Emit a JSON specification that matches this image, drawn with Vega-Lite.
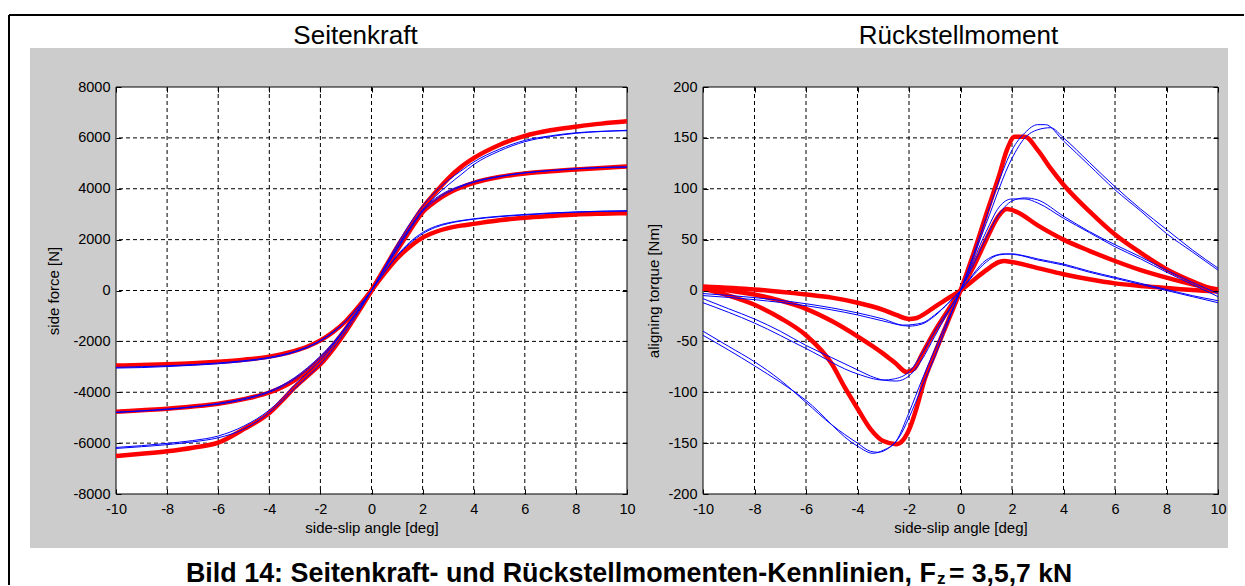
{
  "$schema": "https://vega.github.io/schema/vega-lite/v6.json",
  "background": "#ffffff",
  "autosize": {"type": "pad"},
  "padding": {"left": 7, "top": 13, "right": 0, "bottom": 0},
  "bounds": "flush",
  "spacing": 76,
  "config": {
    "font": "Liberation Sans",
    "view": {"stroke": null},
    "axis": {
      "domain": false,
      "grid": false,
      "labelFont": "Liberation Sans",
      "labelFontSize": 14.5,
      "labelColor": "#000000",
      "titleFont": "Liberation Sans",
      "titleFontSize": 15,
      "titleFontWeight": "normal",
      "titleColor": "#000000",
      "tickColor": "#000000",
      "tickWidth": 1,
      "labelFlush": false,
      "labelOverlap": false,
      "labelBound": false
    }
  },
  "datasets": {
    "one": [{}],
    "gridX": [{"v": -8}, {"v": -6}, {"v": -4}, {"v": -2}, {"v": 0}, {"v": 2}, {"v": 4}, {"v": 6}, {"v": 8}],
    "gridForce": [{"v": -6000}, {"v": -4000}, {"v": -2000}, {"v": 0}, {"v": 2000}, {"v": 4000}, {"v": 6000}],
    "gridTorque": [{"v": -150}, {"v": -100}, {"v": -50}, {"v": 0}, {"v": 50}, {"v": 100}, {"v": 150}],
    "forceModel": [
      {"a": -10, "v": -6510, "s": "F7"}, {"a": -9, "v": -6420, "s": "F7"}, {"a": -8, "v": -6320, "s": "F7"}, {"a": -7, "v": -6180, "s": "F7"},
      {"a": -6, "v": -5980, "s": "F7"}, {"a": -5, "v": -5450, "s": "F7"}, {"a": -4, "v": -4820, "s": "F7"}, {"a": -3.5, "v": -4330, "s": "F7"},
      {"a": -3, "v": -3800, "s": "F7"}, {"a": -2.5, "v": -3350, "s": "F7"}, {"a": -2, "v": -2900, "s": "F7"}, {"a": -1.5, "v": -2300, "s": "F7"},
      {"a": -1, "v": -1600, "s": "F7"}, {"a": -0.5, "v": -820, "s": "F7"}, {"a": 0, "v": 0, "s": "F7"}, {"a": 0.5, "v": 850, "s": "F7"},
      {"a": 1, "v": 1700, "s": "F7"}, {"a": 1.5, "v": 2500, "s": "F7"}, {"a": 2, "v": 3250, "s": "F7"}, {"a": 2.5, "v": 3850, "s": "F7"},
      {"a": 3, "v": 4400, "s": "F7"}, {"a": 3.5, "v": 4850, "s": "F7"}, {"a": 4, "v": 5200, "s": "F7"}, {"a": 5, "v": 5720, "s": "F7"},
      {"a": 6, "v": 6080, "s": "F7"}, {"a": 7, "v": 6300, "s": "F7"}, {"a": 8, "v": 6440, "s": "F7"}, {"a": 9, "v": 6560, "s": "F7"},
      {"a": 10, "v": 6650, "s": "F7"},
      {"a": -10, "v": -4770, "s": "F5"}, {"a": -9, "v": -4710, "s": "F5"}, {"a": -8, "v": -4650, "s": "F5"}, {"a": -7, "v": -4560, "s": "F5"},
      {"a": -6, "v": -4450, "s": "F5"}, {"a": -5, "v": -4270, "s": "F5"}, {"a": -4, "v": -4010, "s": "F5"}, {"a": -3.5, "v": -3800, "s": "F5"},
      {"a": -3, "v": -3520, "s": "F5"}, {"a": -2.5, "v": -3150, "s": "F5"}, {"a": -2, "v": -2700, "s": "F5"}, {"a": -1.5, "v": -2150, "s": "F5"},
      {"a": -1, "v": -1500, "s": "F5"}, {"a": -0.5, "v": -770, "s": "F5"}, {"a": 0, "v": 0, "s": "F5"}, {"a": 0.5, "v": 800, "s": "F5"},
      {"a": 1, "v": 1580, "s": "F5"}, {"a": 1.5, "v": 2350, "s": "F5"}, {"a": 2, "v": 3080, "s": "F5"}, {"a": 2.5, "v": 3500, "s": "F5"},
      {"a": 3, "v": 3820, "s": "F5"}, {"a": 3.5, "v": 4050, "s": "F5"}, {"a": 4, "v": 4230, "s": "F5"}, {"a": 5, "v": 4460, "s": "F5"},
      {"a": 6, "v": 4600, "s": "F5"}, {"a": 7, "v": 4690, "s": "F5"}, {"a": 8, "v": 4760, "s": "F5"}, {"a": 9, "v": 4820, "s": "F5"},
      {"a": 10, "v": 4870, "s": "F5"},
      {"a": -10, "v": -2950, "s": "F3"}, {"a": -9, "v": -2930, "s": "F3"}, {"a": -8, "v": -2900, "s": "F3"}, {"a": -7, "v": -2860, "s": "F3"},
      {"a": -6, "v": -2800, "s": "F3"}, {"a": -5, "v": -2720, "s": "F3"}, {"a": -4, "v": -2600, "s": "F3"}, {"a": -3.5, "v": -2500, "s": "F3"},
      {"a": -3, "v": -2370, "s": "F3"}, {"a": -2.5, "v": -2200, "s": "F3"}, {"a": -2, "v": -1960, "s": "F3"}, {"a": -1.5, "v": -1630, "s": "F3"},
      {"a": -1, "v": -1200, "s": "F3"}, {"a": -0.5, "v": -630, "s": "F3"}, {"a": 0, "v": 0, "s": "F3"}, {"a": 0.5, "v": 660, "s": "F3"},
      {"a": 1, "v": 1260, "s": "F3"}, {"a": 1.5, "v": 1720, "s": "F3"}, {"a": 2, "v": 2080, "s": "F3"}, {"a": 2.5, "v": 2300, "s": "F3"},
      {"a": 3, "v": 2450, "s": "F3"}, {"a": 3.5, "v": 2550, "s": "F3"}, {"a": 4, "v": 2620, "s": "F3"}, {"a": 5, "v": 2760, "s": "F3"},
      {"a": 6, "v": 2860, "s": "F3"}, {"a": 7, "v": 2930, "s": "F3"}, {"a": 8, "v": 2990, "s": "F3"}, {"a": 9, "v": 3020, "s": "F3"},
      {"a": 10, "v": 3040, "s": "F3"}
    ],
    "forceMeas": [
      {"a": -10, "v": -6210, "s": "F7a"}, {"a": -9, "v": -6140, "s": "F7a"}, {"a": -8, "v": -6060, "s": "F7a"}, {"a": -7, "v": -5950, "s": "F7a"},
      {"a": -6, "v": -5790, "s": "F7a"}, {"a": -5, "v": -5450, "s": "F7a"}, {"a": -4, "v": -4800, "s": "F7a"}, {"a": -3.5, "v": -4350, "s": "F7a"},
      {"a": -3, "v": -3850, "s": "F7a"}, {"a": -2.5, "v": -3380, "s": "F7a"}, {"a": -2, "v": -2900, "s": "F7a"}, {"a": -1.5, "v": -2280, "s": "F7a"},
      {"a": -1, "v": -1600, "s": "F7a"}, {"a": -0.5, "v": -830, "s": "F7a"}, {"a": 0, "v": 0, "s": "F7a"}, {"a": 0.5, "v": 860, "s": "F7a"},
      {"a": 1, "v": 1700, "s": "F7a"}, {"a": 1.5, "v": 2480, "s": "F7a"}, {"a": 2, "v": 3150, "s": "F7a"}, {"a": 2.5, "v": 3700, "s": "F7a"},
      {"a": 3, "v": 4150, "s": "F7a"}, {"a": 3.5, "v": 4550, "s": "F7a"}, {"a": 4, "v": 4950, "s": "F7a"}, {"a": 5, "v": 5480, "s": "F7a"},
      {"a": 6, "v": 5850, "s": "F7a"}, {"a": 7, "v": 6050, "s": "F7a"}, {"a": 8, "v": 6180, "s": "F7a"}, {"a": 9, "v": 6250, "s": "F7a"},
      {"a": 10, "v": 6300, "s": "F7a"},
      {"a": -10, "v": -6170, "s": "F7b"}, {"a": -9, "v": -6100, "s": "F7b"}, {"a": -8, "v": -6010, "s": "F7b"}, {"a": -7, "v": -5900, "s": "F7b"},
      {"a": -6, "v": -5720, "s": "F7b"}, {"a": -5, "v": -5330, "s": "F7b"}, {"a": -4, "v": -4700, "s": "F7b"}, {"a": -3.5, "v": -4250, "s": "F7b"},
      {"a": -3, "v": -3700, "s": "F7b"}, {"a": -2.5, "v": -3230, "s": "F7b"}, {"a": -2, "v": -2750, "s": "F7b"}, {"a": -1.5, "v": -2150, "s": "F7b"},
      {"a": -1, "v": -1480, "s": "F7b"}, {"a": -0.5, "v": -760, "s": "F7b"}, {"a": 0, "v": 0, "s": "F7b"}, {"a": 0.5, "v": 900, "s": "F7b"},
      {"a": 1, "v": 1800, "s": "F7b"}, {"a": 1.5, "v": 2620, "s": "F7b"}, {"a": 2, "v": 3320, "s": "F7b"}, {"a": 2.5, "v": 3880, "s": "F7b"},
      {"a": 3, "v": 4330, "s": "F7b"}, {"a": 3.5, "v": 4700, "s": "F7b"}, {"a": 4, "v": 5050, "s": "F7b"}, {"a": 5, "v": 5550, "s": "F7b"},
      {"a": 6, "v": 5900, "s": "F7b"}, {"a": 7, "v": 6080, "s": "F7b"}, {"a": 8, "v": 6200, "s": "F7b"}, {"a": 9, "v": 6260, "s": "F7b"},
      {"a": 10, "v": 6280, "s": "F7b"},
      {"a": -10, "v": -4800, "s": "F5a"}, {"a": -9, "v": -4740, "s": "F5a"}, {"a": -8, "v": -4680, "s": "F5a"}, {"a": -7, "v": -4580, "s": "F5a"},
      {"a": -6, "v": -4470, "s": "F5a"}, {"a": -5, "v": -4290, "s": "F5a"}, {"a": -4, "v": -4000, "s": "F5a"}, {"a": -3.5, "v": -3780, "s": "F5a"},
      {"a": -3, "v": -3480, "s": "F5a"}, {"a": -2.5, "v": -3100, "s": "F5a"}, {"a": -2, "v": -2650, "s": "F5a"}, {"a": -1.5, "v": -2100, "s": "F5a"},
      {"a": -1, "v": -1460, "s": "F5a"}, {"a": -0.5, "v": -750, "s": "F5a"}, {"a": 0, "v": 0, "s": "F5a"}, {"a": 0.5, "v": 820, "s": "F5a"},
      {"a": 1, "v": 1600, "s": "F5a"}, {"a": 1.5, "v": 2380, "s": "F5a"}, {"a": 2, "v": 3100, "s": "F5a"}, {"a": 2.5, "v": 3550, "s": "F5a"},
      {"a": 3, "v": 3860, "s": "F5a"}, {"a": 3.5, "v": 4080, "s": "F5a"}, {"a": 4, "v": 4250, "s": "F5a"}, {"a": 5, "v": 4470, "s": "F5a"},
      {"a": 6, "v": 4620, "s": "F5a"}, {"a": 7, "v": 4710, "s": "F5a"}, {"a": 8, "v": 4780, "s": "F5a"}, {"a": 9, "v": 4830, "s": "F5a"},
      {"a": 10, "v": 4850, "s": "F5a"},
      {"a": -10, "v": -4780, "s": "F5b"}, {"a": -8, "v": -4660, "s": "F5b"}, {"a": -6, "v": -4440, "s": "F5b"}, {"a": -5, "v": -4250, "s": "F5b"},
      {"a": -4, "v": -3960, "s": "F5b"}, {"a": -3, "v": -3420, "s": "F5b"}, {"a": -2.5, "v": -3030, "s": "F5b"}, {"a": -2, "v": -2580, "s": "F5b"},
      {"a": -1.5, "v": -2050, "s": "F5b"}, {"a": -1, "v": -1420, "s": "F5b"}, {"a": -0.5, "v": -730, "s": "F5b"}, {"a": 0, "v": 0, "s": "F5b"},
      {"a": 0.5, "v": 850, "s": "F5b"}, {"a": 1, "v": 1660, "s": "F5b"}, {"a": 1.5, "v": 2450, "s": "F5b"}, {"a": 2, "v": 3180, "s": "F5b"},
      {"a": 2.5, "v": 3620, "s": "F5b"}, {"a": 3, "v": 3920, "s": "F5b"}, {"a": 3.5, "v": 4120, "s": "F5b"}, {"a": 4, "v": 4280, "s": "F5b"},
      {"a": 5, "v": 4490, "s": "F5b"}, {"a": 6, "v": 4630, "s": "F5b"}, {"a": 7, "v": 4720, "s": "F5b"}, {"a": 8, "v": 4790, "s": "F5b"},
      {"a": 9, "v": 4840, "s": "F5b"}, {"a": 10, "v": 4860, "s": "F5b"},
      {"a": -10, "v": -3050, "s": "F3a"}, {"a": -9, "v": -3030, "s": "F3a"}, {"a": -8, "v": -2990, "s": "F3a"}, {"a": -7, "v": -2940, "s": "F3a"},
      {"a": -6, "v": -2880, "s": "F3a"}, {"a": -5, "v": -2790, "s": "F3a"}, {"a": -4, "v": -2660, "s": "F3a"}, {"a": -3.5, "v": -2560, "s": "F3a"},
      {"a": -3, "v": -2420, "s": "F3a"}, {"a": -2.5, "v": -2240, "s": "F3a"}, {"a": -2, "v": -1990, "s": "F3a"}, {"a": -1.5, "v": -1650, "s": "F3a"},
      {"a": -1, "v": -1210, "s": "F3a"}, {"a": -0.5, "v": -640, "s": "F3a"}, {"a": 0, "v": 0, "s": "F3a"}, {"a": 0.5, "v": 700, "s": "F3a"},
      {"a": 1, "v": 1340, "s": "F3a"}, {"a": 1.5, "v": 1850, "s": "F3a"}, {"a": 2, "v": 2230, "s": "F3a"}, {"a": 2.5, "v": 2480, "s": "F3a"},
      {"a": 3, "v": 2630, "s": "F3a"}, {"a": 3.5, "v": 2730, "s": "F3a"}, {"a": 4, "v": 2800, "s": "F3a"}, {"a": 5, "v": 2900, "s": "F3a"},
      {"a": 6, "v": 2970, "s": "F3a"}, {"a": 7, "v": 3030, "s": "F3a"}, {"a": 8, "v": 3080, "s": "F3a"}, {"a": 9, "v": 3110, "s": "F3a"},
      {"a": 10, "v": 3120, "s": "F3a"},
      {"a": -10, "v": -3020, "s": "F3b"}, {"a": -8, "v": -2960, "s": "F3b"}, {"a": -6, "v": -2850, "s": "F3b"}, {"a": -5, "v": -2760, "s": "F3b"},
      {"a": -4, "v": -2630, "s": "F3b"}, {"a": -3, "v": -2390, "s": "F3b"}, {"a": -2.5, "v": -2210, "s": "F3b"}, {"a": -2, "v": -1960, "s": "F3b"},
      {"a": -1.5, "v": -1620, "s": "F3b"}, {"a": -1, "v": -1190, "s": "F3b"}, {"a": -0.5, "v": -620, "s": "F3b"}, {"a": 0, "v": 0, "s": "F3b"},
      {"a": 0.5, "v": 720, "s": "F3b"}, {"a": 1, "v": 1380, "s": "F3b"}, {"a": 1.5, "v": 1900, "s": "F3b"}, {"a": 2, "v": 2280, "s": "F3b"},
      {"a": 2.5, "v": 2520, "s": "F3b"}, {"a": 3, "v": 2660, "s": "F3b"}, {"a": 3.5, "v": 2750, "s": "F3b"}, {"a": 4, "v": 2820, "s": "F3b"},
      {"a": 5, "v": 2920, "s": "F3b"}, {"a": 6, "v": 2990, "s": "F3b"}, {"a": 7, "v": 3050, "s": "F3b"}, {"a": 8, "v": 3090, "s": "F3b"},
      {"a": 9, "v": 3120, "s": "F3b"}, {"a": 10, "v": 3140, "s": "F3b"}
    ],
    "torqueModel": [
      {"a": -10, "v": 2, "s": "M7"}, {"a": -9, "v": -5, "s": "M7"}, {"a": -8, "v": -14, "s": "M7"}, {"a": -7, "v": -27, "s": "M7"},
      {"a": -6, "v": -44, "s": "M7"}, {"a": -5, "v": -72, "s": "M7"}, {"a": -4.5, "v": -95, "s": "M7"}, {"a": -4, "v": -116, "s": "M7"},
      {"a": -3.5, "v": -136, "s": "M7"}, {"a": -3, "v": -148, "s": "M7"}, {"a": -2.5, "v": -151, "s": "M7"}, {"a": -2.2, "v": -146, "s": "M7"},
      {"a": -2, "v": -137, "s": "M7"}, {"a": -1.7, "v": -115, "s": "M7"}, {"a": -1.4, "v": -88, "s": "M7"}, {"a": -1, "v": -62, "s": "M7"},
      {"a": -0.5, "v": -31, "s": "M7"}, {"a": 0, "v": 0, "s": "M7"}, {"a": 0.5, "v": 36, "s": "M7"}, {"a": 1, "v": 75, "s": "M7"},
      {"a": 1.5, "v": 113, "s": "M7"}, {"a": 1.8, "v": 138, "s": "M7"}, {"a": 2.1, "v": 151, "s": "M7"}, {"a": 2.5, "v": 151, "s": "M7"},
      {"a": 3, "v": 138, "s": "M7"}, {"a": 3.5, "v": 120, "s": "M7"}, {"a": 4, "v": 104, "s": "M7"}, {"a": 5, "v": 78, "s": "M7"},
      {"a": 6, "v": 55, "s": "M7"}, {"a": 7, "v": 37, "s": "M7"}, {"a": 8, "v": 21, "s": "M7"}, {"a": 9, "v": 9, "s": "M7"},
      {"a": 10, "v": -1, "s": "M7"},
      {"a": -10, "v": 3, "s": "M5"}, {"a": -9, "v": 0, "s": "M5"}, {"a": -8, "v": -4, "s": "M5"}, {"a": -7, "v": -10, "s": "M5"},
      {"a": -6, "v": -18, "s": "M5"}, {"a": -5, "v": -30, "s": "M5"}, {"a": -4, "v": -45, "s": "M5"}, {"a": -3, "v": -62, "s": "M5"},
      {"a": -2.5, "v": -72, "s": "M5"}, {"a": -2.1, "v": -80, "s": "M5"}, {"a": -1.8, "v": -77, "s": "M5"}, {"a": -1.5, "v": -63, "s": "M5"},
      {"a": -1, "v": -40, "s": "M5"}, {"a": -0.5, "v": -20, "s": "M5"}, {"a": 0, "v": 0, "s": "M5"}, {"a": 0.5, "v": 23, "s": "M5"},
      {"a": 1, "v": 50, "s": "M5"}, {"a": 1.5, "v": 74, "s": "M5"}, {"a": 1.8, "v": 80, "s": "M5"}, {"a": 2.2, "v": 77, "s": "M5"},
      {"a": 3, "v": 64, "s": "M5"}, {"a": 4, "v": 50, "s": "M5"}, {"a": 5, "v": 39, "s": "M5"}, {"a": 6, "v": 29, "s": "M5"},
      {"a": 7, "v": 20, "s": "M5"}, {"a": 8, "v": 12.6, "s": "M5"}, {"a": 9, "v": 6, "s": "M5"}, {"a": 10, "v": 1, "s": "M5"},
      {"a": -10, "v": 4, "s": "M3"}, {"a": -8, "v": 1, "s": "M3"}, {"a": -6, "v": -4, "s": "M3"}, {"a": -5, "v": -7, "s": "M3"},
      {"a": -4, "v": -12, "s": "M3"}, {"a": -3, "v": -19, "s": "M3"}, {"a": -2.5, "v": -24, "s": "M3"}, {"a": -2, "v": -28, "s": "M3"},
      {"a": -1.7, "v": -27, "s": "M3"}, {"a": -1.4, "v": -23, "s": "M3"}, {"a": -1, "v": -16, "s": "M3"}, {"a": -0.5, "v": -8, "s": "M3"},
      {"a": 0, "v": 0, "s": "M3"}, {"a": 0.5, "v": 10, "s": "M3"}, {"a": 1, "v": 20, "s": "M3"}, {"a": 1.5, "v": 28, "s": "M3"},
      {"a": 1.7, "v": 29, "s": "M3"}, {"a": 2, "v": 28, "s": "M3"}, {"a": 3, "v": 22, "s": "M3"}, {"a": 4, "v": 16, "s": "M3"},
      {"a": 5, "v": 11, "s": "M3"}, {"a": 6, "v": 7, "s": "M3"}, {"a": 7, "v": 4.5, "s": "M3"}, {"a": 8, "v": 2.5, "s": "M3"},
      {"a": 9, "v": 0.5, "s": "M3"}, {"a": 10, "v": -1, "s": "M3"}
    ],
    "torqueMeas": [
      {"a": -10, "v": -40, "s": "T7a"}, {"a": -9, "v": -55, "s": "T7a"}, {"a": -8, "v": -70, "s": "T7a"}, {"a": -7, "v": -88, "s": "T7a"},
      {"a": -6, "v": -110, "s": "T7a"}, {"a": -5, "v": -132, "s": "T7a"}, {"a": -4, "v": -150, "s": "T7a"}, {"a": -3.5, "v": -158, "s": "T7a"},
      {"a": -3.2, "v": -159, "s": "T7a"}, {"a": -2.8, "v": -155, "s": "T7a"}, {"a": -2.4, "v": -145, "s": "T7a"}, {"a": -2, "v": -125, "s": "T7a"},
      {"a": -1.5, "v": -95, "s": "T7a"}, {"a": -1, "v": -65, "s": "T7a"}, {"a": -0.5, "v": -32, "s": "T7a"}, {"a": 0, "v": 0, "s": "T7a"},
      {"a": 0.5, "v": 35, "s": "T7a"}, {"a": 1, "v": 72, "s": "T7a"}, {"a": 1.5, "v": 108, "s": "T7a"}, {"a": 2, "v": 138, "s": "T7a"},
      {"a": 2.5, "v": 155, "s": "T7a"}, {"a": 3, "v": 163, "s": "T7a"}, {"a": 3.3, "v": 163, "s": "T7a"}, {"a": 4, "v": 147, "s": "T7a"},
      {"a": 5, "v": 123, "s": "T7a"}, {"a": 6, "v": 99, "s": "T7a"}, {"a": 7, "v": 78, "s": "T7a"}, {"a": 8, "v": 56, "s": "T7a"},
      {"a": 9, "v": 38, "s": "T7a"}, {"a": 10, "v": 20, "s": "T7a"},
      {"a": -10, "v": -44, "s": "T7b"}, {"a": -8, "v": -74, "s": "T7b"}, {"a": -6, "v": -108, "s": "T7b"}, {"a": -4, "v": -153, "s": "T7b"},
      {"a": -3.4, "v": -160, "s": "T7b"}, {"a": -3, "v": -157, "s": "T7b"}, {"a": -2.5, "v": -148, "s": "T7b"}, {"a": -2, "v": -120, "s": "T7b"},
      {"a": -1.5, "v": -88, "s": "T7b"}, {"a": -1, "v": -58, "s": "T7b"}, {"a": 0, "v": 0, "s": "T7b"}, {"a": 1, "v": 66, "s": "T7b"},
      {"a": 2, "v": 130, "s": "T7b"}, {"a": 2.5, "v": 150, "s": "T7b"}, {"a": 3, "v": 158, "s": "T7b"}, {"a": 3.5, "v": 160, "s": "T7b"},
      {"a": 4, "v": 150, "s": "T7b"}, {"a": 5, "v": 126, "s": "T7b"}, {"a": 6, "v": 102, "s": "T7b"}, {"a": 7, "v": 80, "s": "T7b"},
      {"a": 8, "v": 60, "s": "T7b"}, {"a": 9, "v": 40, "s": "T7b"}, {"a": 10, "v": 22, "s": "T7b"},
      {"a": -10, "v": -8, "s": "T5a"}, {"a": -9, "v": -18, "s": "T5a"}, {"a": -8, "v": -28, "s": "T5a"}, {"a": -7, "v": -40, "s": "T5a"},
      {"a": -6, "v": -54, "s": "T5a"}, {"a": -5, "v": -66, "s": "T5a"}, {"a": -4, "v": -78, "s": "T5a"}, {"a": -3.5, "v": -84, "s": "T5a"},
      {"a": -3, "v": -88, "s": "T5a"}, {"a": -2.5, "v": -89, "s": "T5a"}, {"a": -2, "v": -84, "s": "T5a"}, {"a": -1.5, "v": -68, "s": "T5a"},
      {"a": -1, "v": -45, "s": "T5a"}, {"a": -0.5, "v": -22, "s": "T5a"}, {"a": 0, "v": 0, "s": "T5a"}, {"a": 0.5, "v": 25, "s": "T5a"},
      {"a": 1, "v": 52, "s": "T5a"}, {"a": 1.5, "v": 75, "s": "T5a"}, {"a": 2, "v": 88, "s": "T5a"}, {"a": 2.5, "v": 91, "s": "T5a"},
      {"a": 3, "v": 89, "s": "T5a"}, {"a": 4, "v": 73, "s": "T5a"}, {"a": 5, "v": 58, "s": "T5a"}, {"a": 6, "v": 45, "s": "T5a"},
      {"a": 7, "v": 33, "s": "T5a"}, {"a": 8, "v": 20, "s": "T5a"}, {"a": 9, "v": 8, "s": "T5a"}, {"a": 10, "v": -3, "s": "T5a"},
      {"a": -10, "v": -12, "s": "T5b"}, {"a": -8, "v": -32, "s": "T5b"}, {"a": -6, "v": -57, "s": "T5b"}, {"a": -4, "v": -82, "s": "T5b"},
      {"a": -3, "v": -88, "s": "T5b"}, {"a": -2.6, "v": -87, "s": "T5b"}, {"a": -2, "v": -80, "s": "T5b"}, {"a": -1.5, "v": -62, "s": "T5b"},
      {"a": -1, "v": -40, "s": "T5b"}, {"a": 0, "v": 0, "s": "T5b"}, {"a": 1, "v": 58, "s": "T5b"}, {"a": 1.5, "v": 82, "s": "T5b"},
      {"a": 2, "v": 90, "s": "T5b"}, {"a": 2.5, "v": 90, "s": "T5b"}, {"a": 3, "v": 86, "s": "T5b"}, {"a": 4, "v": 71, "s": "T5b"},
      {"a": 5, "v": 57, "s": "T5b"}, {"a": 6, "v": 43, "s": "T5b"}, {"a": 7, "v": 31, "s": "T5b"}, {"a": 8, "v": 18, "s": "T5b"},
      {"a": 9, "v": 6, "s": "T5b"}, {"a": 10, "v": -6, "s": "T5b"},
      {"a": -10, "v": -5, "s": "T3a"}, {"a": -8, "v": -9, "s": "T3a"}, {"a": -6, "v": -15, "s": "T3a"}, {"a": -4, "v": -24, "s": "T3a"},
      {"a": -3, "v": -30, "s": "T3a"}, {"a": -2, "v": -35, "s": "T3a"}, {"a": -1.5, "v": -33, "s": "T3a"}, {"a": -1, "v": -25, "s": "T3a"},
      {"a": -0.5, "v": -13, "s": "T3a"}, {"a": 0, "v": 0, "s": "T3a"}, {"a": 0.5, "v": 15, "s": "T3a"}, {"a": 1, "v": 28, "s": "T3a"},
      {"a": 1.5, "v": 35, "s": "T3a"}, {"a": 2, "v": 36, "s": "T3a"}, {"a": 2.5, "v": 34, "s": "T3a"}, {"a": 3, "v": 31, "s": "T3a"},
      {"a": 4, "v": 26, "s": "T3a"}, {"a": 5, "v": 19, "s": "T3a"}, {"a": 6, "v": 13, "s": "T3a"}, {"a": 7, "v": 7, "s": "T3a"},
      {"a": 8, "v": 1, "s": "T3a"}, {"a": 9, "v": -5, "s": "T3a"}, {"a": 10, "v": -10, "s": "T3a"},
      {"a": -10, "v": -3, "s": "T3b"}, {"a": -8, "v": -7, "s": "T3b"}, {"a": -6, "v": -13, "s": "T3b"}, {"a": -4, "v": -22, "s": "T3b"},
      {"a": -3, "v": -28, "s": "T3b"}, {"a": -2.2, "v": -34, "s": "T3b"}, {"a": -1.5, "v": -32, "s": "T3b"}, {"a": -1, "v": -24, "s": "T3b"},
      {"a": 0, "v": 0, "s": "T3b"}, {"a": 1, "v": 30, "s": "T3b"}, {"a": 1.7, "v": 36, "s": "T3b"}, {"a": 2.2, "v": 35, "s": "T3b"},
      {"a": 3, "v": 30, "s": "T3b"}, {"a": 4, "v": 25, "s": "T3b"}, {"a": 5, "v": 18, "s": "T3b"}, {"a": 6, "v": 12, "s": "T3b"},
      {"a": 7, "v": 6, "s": "T3b"}, {"a": 8, "v": 0, "s": "T3b"}, {"a": 9, "v": -6, "s": "T3b"}, {"a": 10, "v": -12, "s": "T3b"}
    ]
  },
  "hconcat": [
    {
      "width": 511,
      "height": 407,
      "layer": [
        {
          "data": {"name": "one"},
          "mark": {"type": "rule", "color": "#000000", "strokeWidth": 2, "strokeCap": "butt"},
          "encoding": {
            "x": {"datum": -14.1879, "type": "quantitative", "scale": {"domain": [-10, 10], "nice": false, "zero": false}, "axis": null},
            "y": {"datum": 10830.5, "type": "quantitative", "scale": {"domain": [-8000, 8000], "nice": false, "zero": false}, "axis": null},
            "y2": {"datum": -11577.4}
          }
        },
        {
          "data": {"name": "one"},
          "mark": {"type": "rule", "color": "#000000", "strokeWidth": 2, "strokeCap": "butt"},
          "encoding": {
            "x": {"datum": -14.1879, "type": "quantitative", "axis": null},
            "x2": {"datum": 34.1487},
            "y": {"datum": 10830.5, "type": "quantitative", "axis": null}
          }
        },
        {
          "data": {"name": "one"},
          "mark": {"type": "rect", "fill": "#cccccc"},
          "encoding": {
            "x": {"datum": -13.366, "type": "quantitative", "axis": null},
            "x2": {"datum": 33.5225},
            "y": {"datum": 9533.2, "type": "quantitative", "axis": null},
            "y2": {"datum": -10122.8}
          }
        },
        {
          "data": {"name": "one"},
          "mark": {"type": "rect", "fill": "#ffffff", "stroke": "#000000", "strokeWidth": 1},
          "encoding": {
            "x": {"datum": -10, "type": "quantitative", "axis": {
              "orient": "bottom", "values": [-10, -8, -6, -4, -2, 0, 2, 4, 6, 8, 10], "labelExpr": "datum.value + ''",
              "tickSize": -5, "labelPadding": 13, "title": "side-slip angle [deg]",
              "titleY": 38, "titleBaseline": "alphabetic", "titleAlign": "center", "zindex": 1}},
            "x2": {"datum": 10},
            "y": {"datum": -8000, "type": "quantitative", "axis": {
              "orient": "left", "values": [-8000, -6000, -4000, -2000, 0, 2000, 4000, 6000, 8000], "labelExpr": "datum.value + ''",
              "tickSize": -5, "labelPadding": 11, "title": "side force [N]",
              "titleX": -58, "titleAngle": 270, "titleBaseline": "alphabetic", "titleAlign": "center", "zindex": 1}},
            "y2": {"datum": 8000}
          }
        },
        {
          "data": {"name": "gridX"},
          "mark": {"type": "rule", "color": "#000000", "strokeWidth": 1, "strokeDash": [4, 3]},
          "encoding": {
            "x": {"field": "v", "type": "quantitative", "axis": {
              "orient": "top", "values": [-10, -8, -6, -4, -2, 0, 2, 4, 6, 8, 10], "labels": false, "tickSize": -5,
              "title": "Seitenkraft", "titleFontSize": 26, "titleX": 239, "titleY": -44, "titleAngle": 0,
              "titleBaseline": "alphabetic", "titleAlign": "center", "zindex": 1}}
          }
        },
        {
          "data": {"name": "gridForce"},
          "mark": {"type": "rule", "color": "#000000", "strokeWidth": 1, "strokeDash": [4, 3]},
          "encoding": {
            "y": {"field": "v", "type": "quantitative", "axis": {
              "orient": "right", "values": [-8000, -6000, -4000, -2000, 0, 2000, 4000, 6000, 8000], "labels": false,
              "tickSize": -5, "title": null, "zindex": 1}}
          }
        },
        {
          "data": {"name": "forceModel"},
          "mark": {"type": "line", "color": "#ff0000", "strokeWidth": 4.5, "interpolate": "monotone", "strokeJoin": "round"},
          "encoding": {
            "x": {"field": "a", "type": "quantitative", "axis": null},
            "y": {"field": "v", "type": "quantitative", "axis": null},
            "detail": {"field": "s"}
          }
        },
        {
          "data": {"name": "forceMeas"},
          "mark": {"type": "line", "color": "#0000ff", "strokeWidth": 1, "interpolate": "monotone"},
          "encoding": {
            "x": {"field": "a", "type": "quantitative", "axis": null},
            "y": {"field": "v", "type": "quantitative", "axis": null},
            "detail": {"field": "s"}
          }
        },
        {
          "data": {"name": "one"},
          "mark": {"type": "text", "text": "Bild 14: Seitenkraft- und Rückstellmomenten-Kennlinien, F", "align": "right", "baseline": "alphabetic",
                   "font": "Liberation Sans", "fontSize": 26.9, "fontWeight": "bold", "color": "#000000"},
          "encoding": {
            "x": {"datum": 22.094, "type": "quantitative", "axis": null},
            "y": {"datum": -11459.4, "type": "quantitative", "axis": null}
          }
        },
        {
          "data": {"name": "one"},
          "mark": {"type": "text", "text": "z", "align": "left", "baseline": "alphabetic",
                   "font": "Liberation Sans", "fontSize": 17, "fontWeight": "bold", "color": "#000000"},
          "encoding": {
            "x": {"datum": 22.133, "type": "quantitative", "axis": null},
            "y": {"datum": -11538, "type": "quantitative", "axis": null}
          }
        },
        {
          "data": {"name": "one"},
          "mark": {"type": "text", "text": "= 3,5,7 kN", "align": "left", "baseline": "alphabetic",
                   "font": "Liberation Sans", "fontSize": 26.5, "fontWeight": "bold", "color": "#000000"},
          "encoding": {
            "x": {"datum": 22.6027, "type": "quantitative", "axis": null},
            "y": {"datum": -11459.4, "type": "quantitative", "axis": null}
          }
        }
      ]
    },
    {
      "width": 515,
      "height": 407,
      "layer": [
        {
          "data": {"name": "one"},
          "mark": {"type": "rect", "fill": "#ffffff", "stroke": "#000000", "strokeWidth": 1},
          "encoding": {
            "x": {"datum": -10, "type": "quantitative", "scale": {"domain": [-10, 10], "nice": false, "zero": false}, "axis": {
              "orient": "bottom", "values": [-10, -8, -6, -4, -2, 0, 2, 4, 6, 8, 10], "labelExpr": "datum.value + ''",
              "tickSize": -5, "labelPadding": 13, "title": "side-slip angle [deg]",
              "titleY": 38, "titleBaseline": "alphabetic", "titleAlign": "center", "zindex": 1}},
            "x2": {"datum": 10},
            "y": {"datum": -200, "type": "quantitative", "scale": {"domain": [-200, 200], "nice": false, "zero": false}, "axis": {
              "orient": "left", "values": [-200, -150, -100, -50, 0, 50, 100, 150, 200], "labelExpr": "datum.value + ''",
              "tickSize": -5, "labelPadding": 11, "title": "aligning torque [Nm]",
              "titleX": -45, "titleAngle": 270, "titleBaseline": "alphabetic", "titleAlign": "center", "zindex": 1}},
            "y2": {"datum": 200}
          }
        },
        {
          "data": {"name": "gridX"},
          "mark": {"type": "rule", "color": "#000000", "strokeWidth": 1, "strokeDash": [4, 3]},
          "encoding": {
            "x": {"field": "v", "type": "quantitative", "axis": {
              "orient": "top", "values": [-10, -8, -6, -4, -2, 0, 2, 4, 6, 8, 10], "labels": false, "tickSize": -5,
              "title": "Rückstellmoment", "titleFontSize": 26, "titleX": 255, "titleY": -44, "titleAngle": 0,
              "titleBaseline": "alphabetic", "titleAlign": "center", "zindex": 1}}
          }
        },
        {
          "data": {"name": "gridTorque"},
          "mark": {"type": "rule", "color": "#000000", "strokeWidth": 1, "strokeDash": [4, 3]},
          "encoding": {
            "y": {"field": "v", "type": "quantitative", "axis": {
              "orient": "right", "values": [-200, -150, -100, -50, 0, 50, 100, 150, 200], "labels": false,
              "tickSize": -5, "title": null, "zindex": 1}}
          }
        },
        {
          "data": {"name": "torqueModel"},
          "mark": {"type": "line", "color": "#ff0000", "strokeWidth": 4.5, "interpolate": "monotone", "strokeJoin": "round"},
          "encoding": {
            "x": {"field": "a", "type": "quantitative", "axis": null},
            "y": {"field": "v", "type": "quantitative", "axis": null},
            "detail": {"field": "s"}
          }
        },
        {
          "data": {"name": "torqueMeas"},
          "mark": {"type": "line", "color": "#0000ff", "strokeWidth": 1, "interpolate": "monotone"},
          "encoding": {
            "x": {"field": "a", "type": "quantitative", "axis": null},
            "y": {"field": "v", "type": "quantitative", "axis": null},
            "detail": {"field": "s"}
          }
        }
      ]
    }
  ]
}
